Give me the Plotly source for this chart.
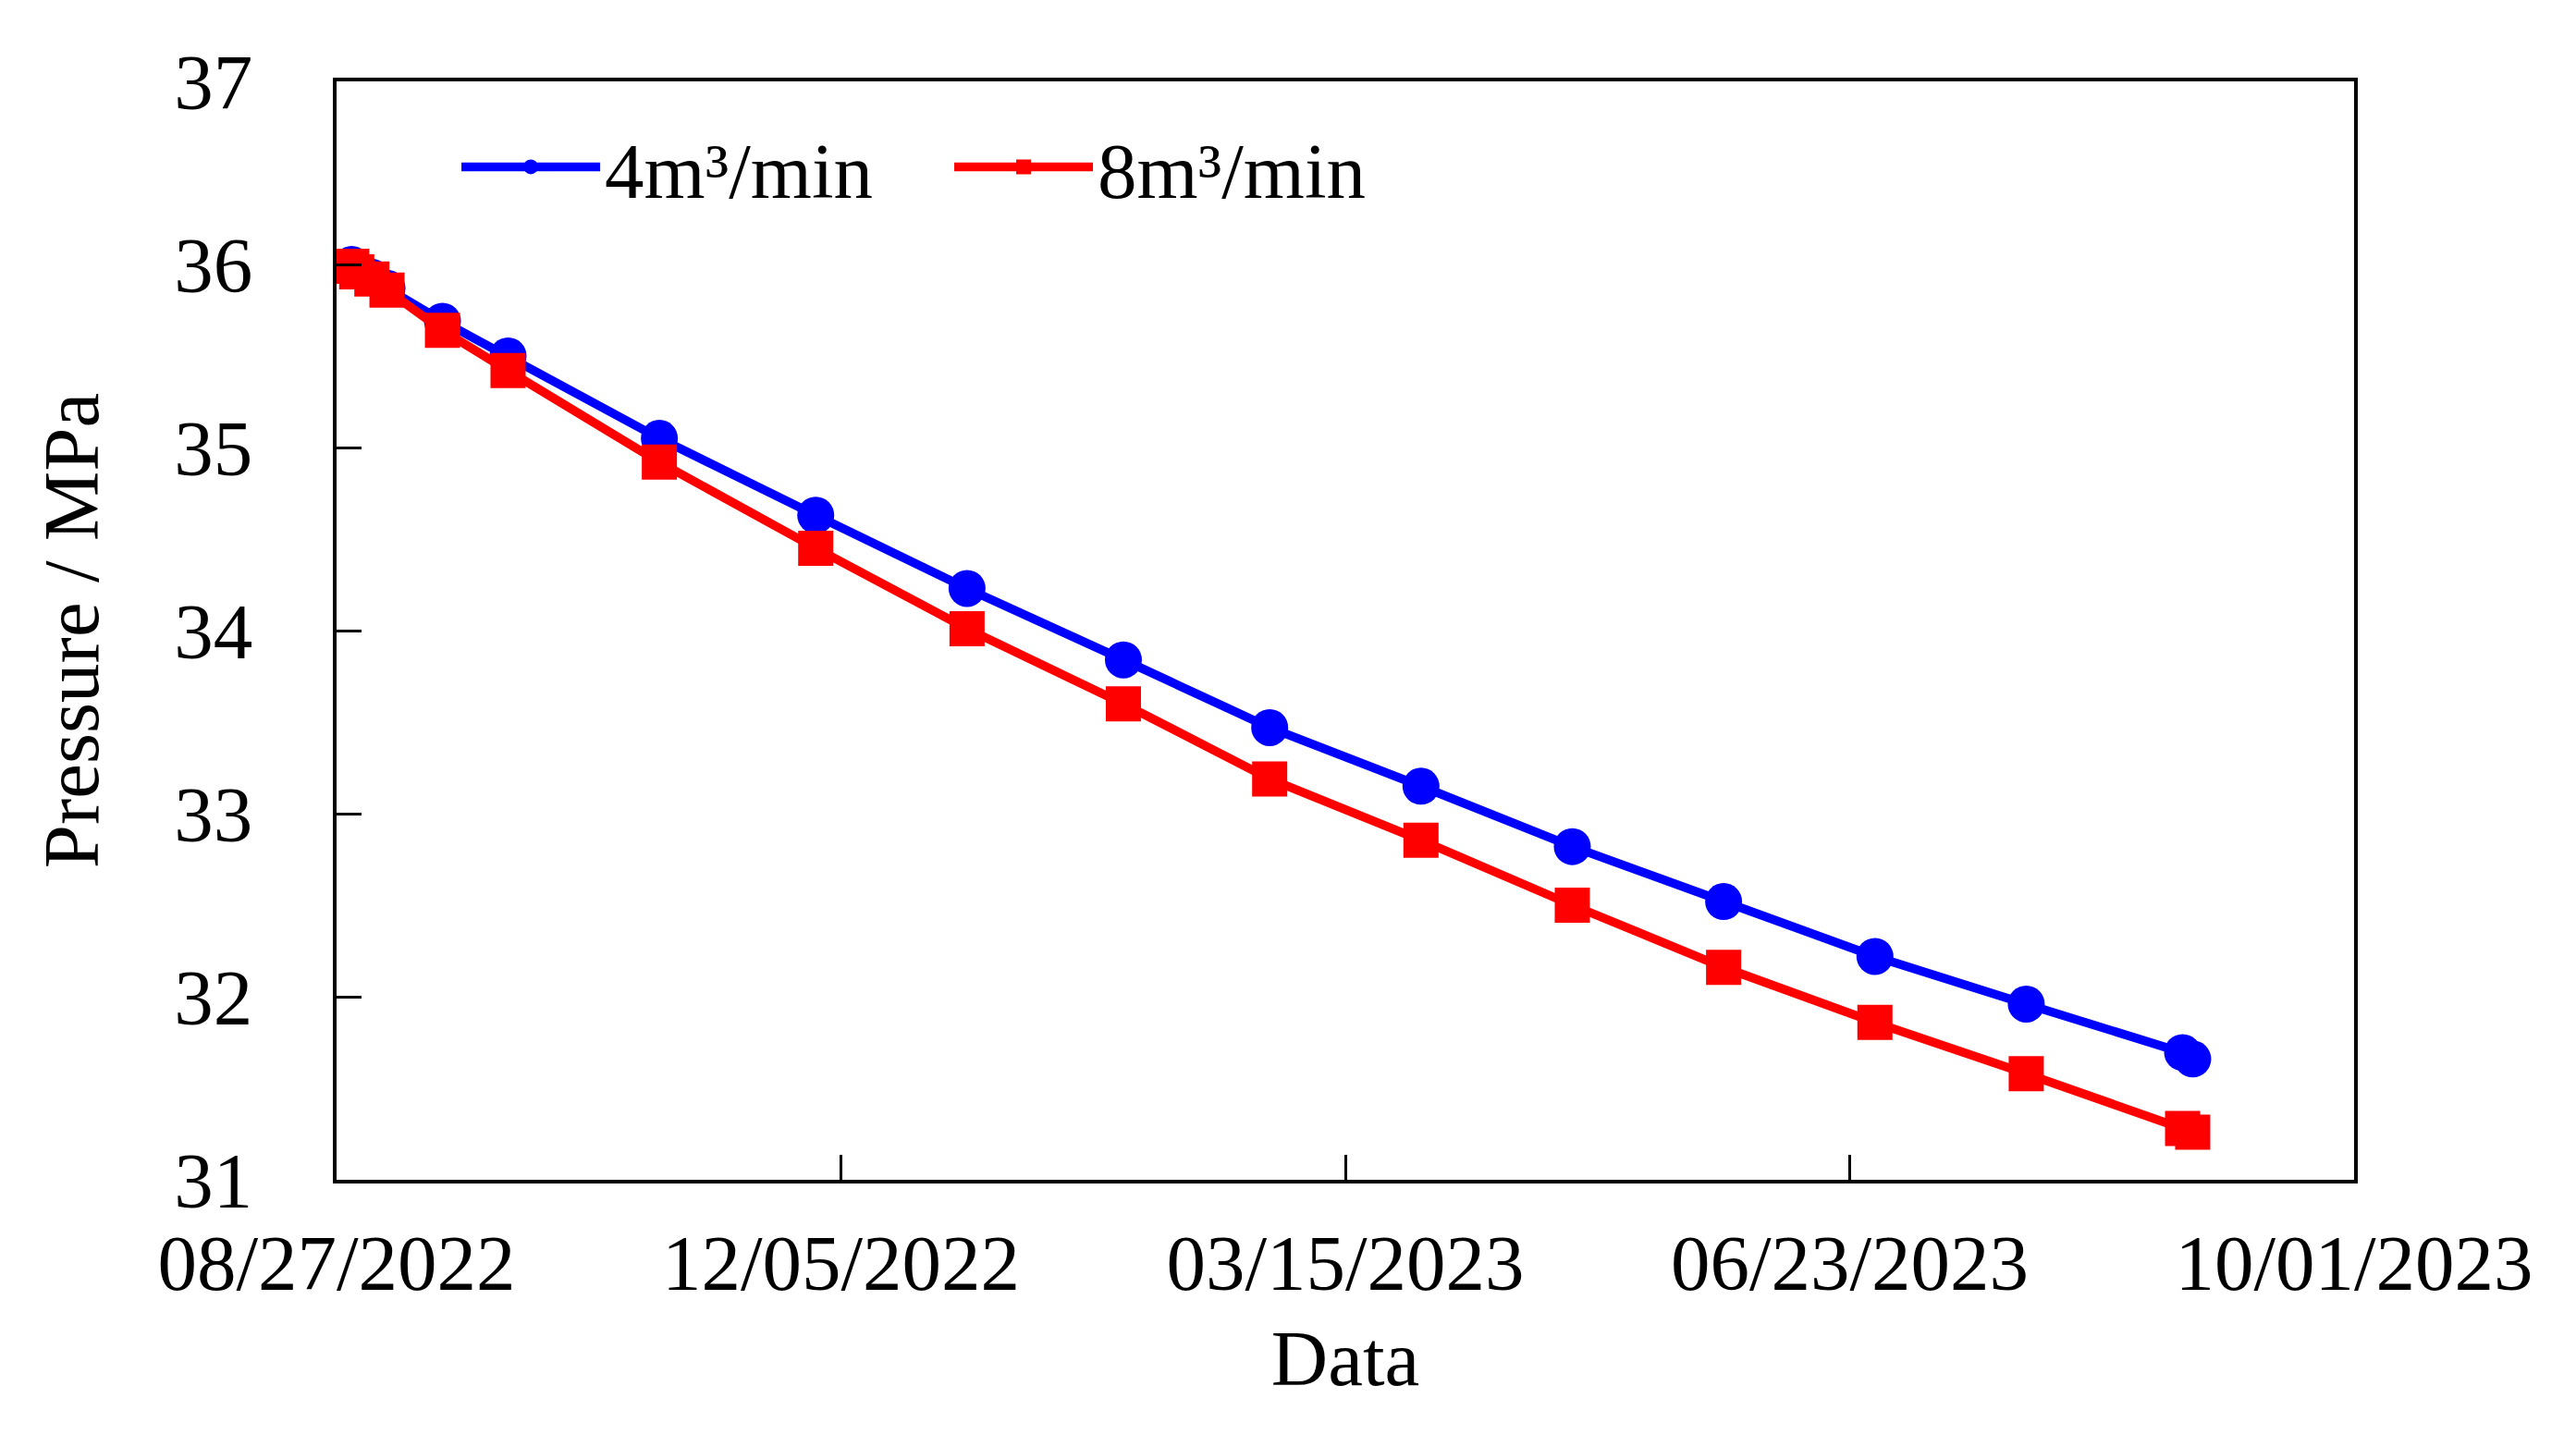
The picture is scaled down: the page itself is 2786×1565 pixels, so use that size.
import plotly.graph_objects as go

# Dates (sampled points) and pressures (MPa)
dates = ["2022-08-30", "2022-08-31", "2022-09-03", "2022-09-06", "2022-09-17",
         "2022-09-30", "2022-10-30", "2022-11-30", "2022-12-30", "2023-01-30",
         "2023-02-28", "2023-03-30", "2023-04-29", "2023-05-29", "2023-06-28",
         "2023-07-28", "2023-08-28", "2023-08-30"]
p_4 = [36.00, 35.97, 35.93, 35.87, 35.69, 35.50, 35.05, 34.63, 34.23, 33.84,
       33.47, 33.15, 32.82, 32.52, 32.22, 31.96, 31.695, 31.66]
p_8 = [35.99, 35.96, 35.92, 35.86, 35.64, 35.42, 34.92, 34.45, 34.01, 33.60,
       33.19, 32.855, 32.50, 32.16, 31.86, 31.58, 31.28, 31.26]

series_names = ["4m³/min", "8m³/min"]
x_range = ["2022-08-27", "2023-10-01"]
y_range = [31, 37]

FONT = "Liberation Serif, Times New Roman, serif"
FS = 85

fig = go.Figure()
fig.add_trace(go.Scatter(
    x=dates, y=p_4, name=series_names[0], mode="lines+markers",
    line=dict(color="#0000FF", width=9.5),
    marker=dict(symbol="circle", size=40, color="#0000FF"),
    cliponaxis=False,
))
fig.add_trace(go.Scatter(
    x=dates, y=p_8, name=series_names[1], mode="lines+markers",
    line=dict(color="#FF0000", width=9.5),
    marker=dict(symbol="square", size=38, color="#FF0000"),
    cliponaxis=False,
))

fig.update_layout(
    width=2786, height=1565,
    margin=dict(l=356, r=248, t=80, b=297),
    paper_bgcolor="white", plot_bgcolor="white",
    font=dict(family=FONT, size=FS, color="black"),
    showlegend=True,
    legend=dict(
        orientation="h", x=0.0596, y=0.922, xanchor="left", yanchor="middle",
        bgcolor="rgba(0,0,0,0)", font=dict(family=FONT, size=FS, color="black"),
        itemwidth=150, entrywidth=368, entrywidthmode="pixels",
        itemsizing="trace", tracegroupgap=0,
    ),
)
fig.update_xaxes(
    type="date", range=x_range, tick0="2022-08-27", dtick=100 * 86400000,
    tickformat="%m/%d/%Y", ticks="inside", ticklen=27, tickwidth=3,
    tickcolor="black", showline=True, linecolor="black", linewidth=3.5,
    mirror=True, showgrid=False, zeroline=False,
    ticklabelstandoff=13,
    title=dict(text="Data", font=dict(family=FONT, size=FS), standoff=28),
)
fig.update_yaxes(
    range=y_range, dtick=1, ticks="inside", ticklen=27, tickwidth=3,
    tickcolor="black", showline=True, linecolor="black", linewidth=3.5,
    mirror=True, showgrid=False, zeroline=False,
    ticklabelstandoff=70,
    title=dict(text="Pressure / MPa", font=dict(family=FONT, size=FS), standoff=55),
)

fig.write_html("out.html")
